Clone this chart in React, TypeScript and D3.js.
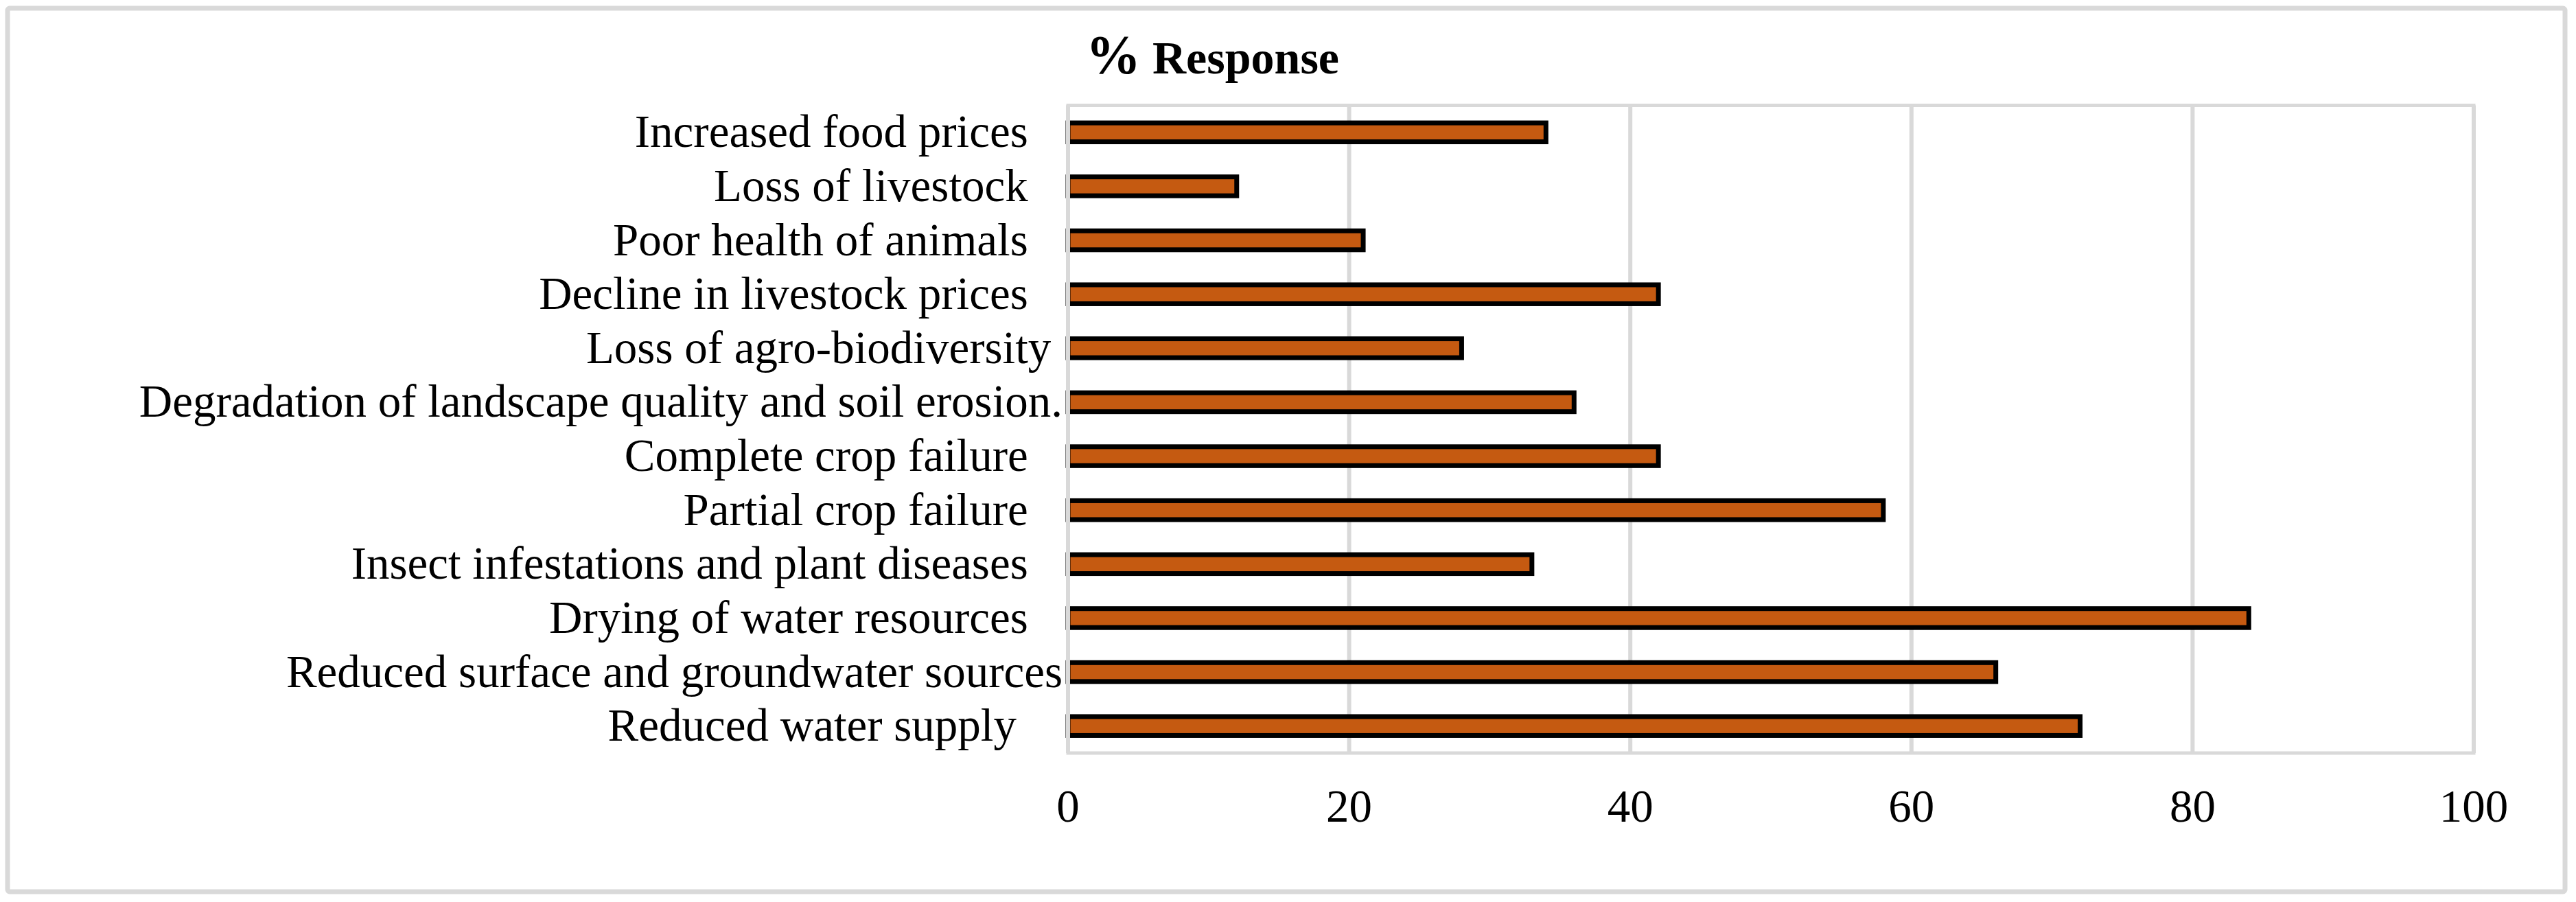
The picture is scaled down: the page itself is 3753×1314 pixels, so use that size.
import React from "react";
import * as d3 from "d3";

// Categories top-to-bottom as displayed (trailing spaces kept as in the source labels)
const categories: string[] = [
  "Increased food prices   ",
  "Loss of livestock   ",
  "Poor health of animals   ",
  "Decline in livestock prices   ",
  "Loss of agro-biodiversity ",
  "Degradation of landscape quality and soil erosion.",
  "Complete crop failure   ",
  "Partial crop failure   ",
  "Insect infestations and plant diseases   ",
  "Drying of water resources   ",
  "Reduced surface and groundwater sources",
  "Reduced water supply    ",
];
const responses: number[] = [34, 12, 21, 42, 28, 36, 42, 58, 33, 84, 66, 72];
const xTicks: number[] = [0, 20, 40, 60, 80, 100];
const titlePercent = "%";
const titleText = " Response";

const W = 3753;
const H = 1314;
const FONT = "'Liberation Serif', 'Times New Roman', Times, serif";
const GRID = "#d9d9d9";
const BAR = "#c55a11";

export default function App() {
  const left = 1556;
  const right = 3604;
  const top = 153.5;
  const bottom = 1097;

  const x = d3.scaleLinear().domain([0, 100]).range([left, right]);
  const y = d3
    .scaleBand<string>()
    .domain(categories)
    .range([top, bottom])
    .paddingInner(0.65)
    .paddingOuter(0.325);

  const labelSize = 67;

  return (
    <svg
      width={W}
      height={H}
      viewBox={`0 0 ${W} ${H}`}
      style={{ position: "absolute", left: 0, top: 0, background: "#fff" }}
    >
      <rect x={0} y={0} width={W} height={H} fill="#fff" />
      {/* chart area border */}
      <rect x={11} y={12} width={3726} height={1287} rx={3} fill="#fff" stroke={GRID} strokeWidth={7} />

      {/* title */}
      <text x={1582} y={107} fontFamily={FONT} fontWeight="bold" fill="#000">
        <tspan fontSize={80}>{titlePercent}</tspan>
        <tspan fontSize={68} xmlSpace="preserve" style={{ whiteSpace: "pre" }}>{titleText}</tspan>
      </text>

      {/* plot area border */}
      <rect x={left} y={top} width={right - left} height={bottom - top} fill="none" stroke={GRID} strokeWidth={5} />

      {/* vertical gridlines */}
      {xTicks.map((t) => (
        <line key={"g" + t} x1={x(t)} x2={x(t)} y1={top} y2={bottom} stroke={GRID} strokeWidth={6} />
      ))}

      {/* bars */}
      {categories.map((c, i) => (
        <rect
          key={"b" + i}
          x={x(0)}
          y={y(c) as number}
          width={x(responses[i]) - x(0)}
          height={y.bandwidth()}
          fill={BAR}
          stroke="#000"
          strokeWidth={7}
        />
      ))}

      {/* category axis line drawn over bar edges */}
      <line x1={x(0)} x2={x(0)} y1={top} y2={bottom} stroke={GRID} strokeWidth={6} />

      {/* category labels */}
      {categories.map((c, i) => (
        <text
          key={"l" + i}
          x={1548}
          y={(y(c) as number) + y.bandwidth() / 2 + labelSize * 0.32}
          textAnchor="end"
          fontFamily={FONT}
          fontSize={labelSize}
          fill="#000"
          xmlSpace="preserve"
          style={{ whiteSpace: "pre" }}
        >
          {c}
        </text>
      ))}

      {/* x tick labels */}
      {xTicks.map((t) => (
        <text
          key={"t" + t}
          x={x(t)}
          y={1197}
          textAnchor="middle"
          fontFamily={FONT}
          fontSize={labelSize}
          fill="#000"
        >
          {t}
        </text>
      ))}
    </svg>
  );
}
